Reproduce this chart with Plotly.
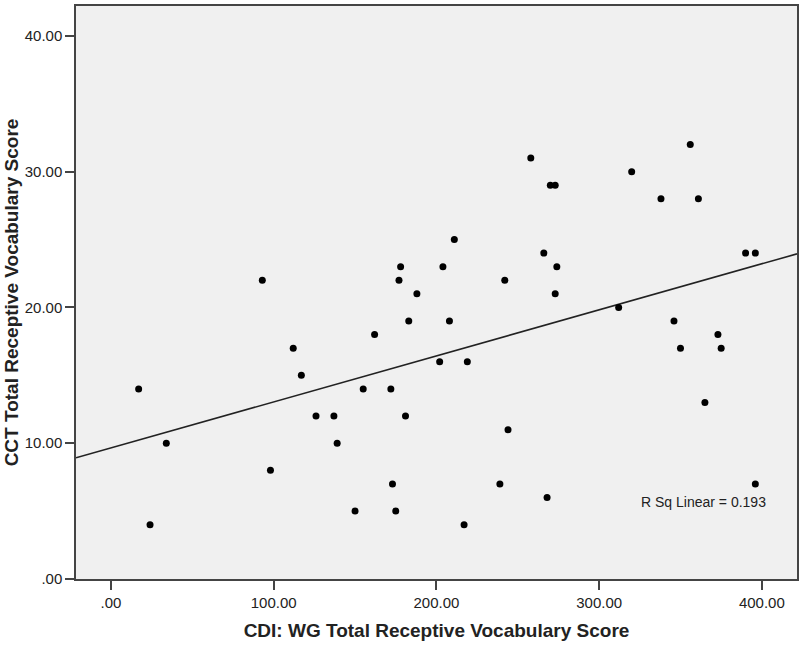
import numpy as np
import plotly.graph_objects as go

# CDI: WG receptive vocabulary (x) vs CCT receptive vocabulary (y)
cdi_scores = [17, 24, 34, 93, 98, 112, 117, 126, 137, 139,
              150, 155, 162, 172, 173, 175, 177, 178, 181, 183,
              188, 202, 204, 208, 211, 217, 219, 239, 242, 244,
              258, 266, 268, 270, 273, 273, 274, 312, 320, 338,
              346, 350, 356, 361, 365, 373, 375, 390, 396, 396]
cct_scores = [14, 4, 10, 22, 8, 17, 15, 12, 12, 10,
              5, 14, 18, 14, 7, 5, 22, 23, 12, 19,
              21, 16, 23, 19, 25, 4, 16, 7, 22, 11,
              31, 24, 6, 29, 29, 21, 23, 20, 30, 28,
              19, 17, 32, 28, 13, 18, 17, 24, 24, 7]

x_ticks = [0, 100, 200, 300, 400]
x_tick_labels = [".00", "100.00", "200.00", "300.00", "400.00"]
y_ticks = [0, 10, 20, 30, 40]
y_tick_labels = [".00", "10.00", "20.00", "30.00", "40.00"]

x_range = [-21.5, 421.6]
y_range = [0, 42.2]

# linear fit line across the whole x range
slope, intercept = np.polyfit(cdi_scores, cct_scores, 1)
fit_x = np.array(x_range)
fit_y = intercept + slope * fit_x

font = "Liberation Sans, Arial, sans-serif"

fig = go.Figure()
fig.add_trace(go.Scatter(
    x=fit_x, y=fit_y, mode="lines",
    line=dict(color="#222222", width=1.6),
    hoverinfo="skip", showlegend=False
))
fig.add_trace(go.Scatter(
    x=cdi_scores, y=cct_scores, mode="markers",
    marker=dict(color="black", size=7),
    showlegend=False
))

fig.add_annotation(
    x=404, y=5.7, xref="x", yref="y",
    text="R Sq Linear = 0.193", showarrow=False,
    xanchor="right", yanchor="middle",
    font=dict(family=font, size=14, color="#222222")
)

axis_common = dict(
    showgrid=False, zeroline=False, automargin=False,
    showline=True, linecolor="#444444", linewidth=1.5, mirror=True,
    ticks="outside", tickcolor="#444444", tickwidth=1.5, ticklen=9,
    tickfont=dict(family=font, size=15, color="#222222"),
)

fig.update_xaxes(
    range=x_range, tickvals=x_ticks, ticktext=x_tick_labels,
    title=dict(text="<b>CDI: WG Total Receptive Vocabulary Score</b>",
               font=dict(family=font, size=19, color="#222222"), standoff=14),
    **axis_common
)
fig.update_yaxes(
    range=y_range, tickvals=y_ticks, ticktext=y_tick_labels,
    title=dict(text="<b>CCT Total Receptive Vocabulary Score</b>",
               font=dict(family=font, size=19, color="#222222"), standoff=1),
    **axis_common
)

fig.update_layout(
    width=800, height=649,
    margin=dict(l=76, r=3, t=6, b=70),
    plot_bgcolor="#F0F0F0", paper_bgcolor="white",
)

# drop the default page margin so the figure sits at the window's corner
fig.write_html(
    "out.html",
    config={"displayModeBar": False},
    post_script="document.body.style.margin='0';document.body.style.overflow='hidden';",
)
